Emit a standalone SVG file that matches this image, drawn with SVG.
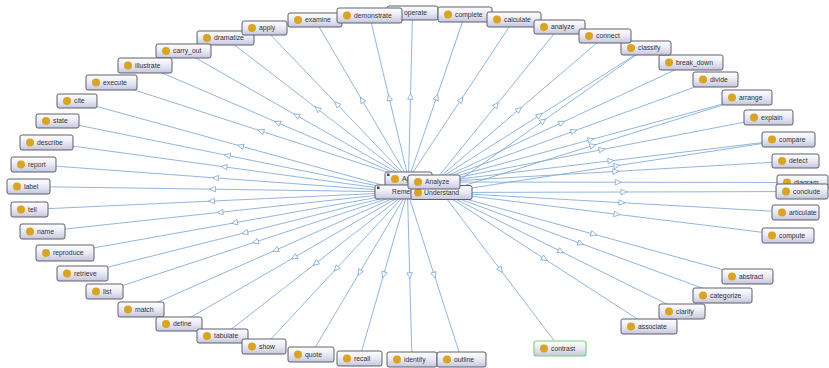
<svg xmlns="http://www.w3.org/2000/svg" width="829" height="368" viewBox="0 0 829 368">
<defs>
<linearGradient id="g" x1="0" y1="0" x2="0" y2="1">
<stop offset="0" stop-color="#ffffff"/>
<stop offset="0.5" stop-color="#e9e9f4"/>
<stop offset="1" stop-color="#c6c6df"/>
</linearGradient>
<marker id="arr" viewBox="0 0 8 8" refX="4" refY="4" markerWidth="8" markerHeight="7" markerUnits="userSpaceOnUse" orient="auto">
<path d="M0.6,0.9 L7.4,4 L0.6,7.1 Z" fill="#ffffff" stroke="#6f9fd0" stroke-width="0.8"/>
</marker>
</defs>
<style>
.edge{fill:none;stroke:#86aed8;stroke-width:0.9;marker-mid:url(#arr)}
.box{fill:url(#g);stroke:#5e5e6c;stroke-width:1}
.green{stroke:#7fd07f;stroke-width:1.2}
.dot{fill:#d8a424}
.icon{fill:#444}
.lbl{font-family:"Liberation Sans",Arial,sans-serif;font-size:6.8px;fill:#333}
</style>
<rect width="829" height="368" fill="#ffffff"/>
<g id="connectors">
<path class="edge" d="M407.5,192 L240.4,146 L77,101"/>
<path class="edge" d="M407.5,192 L227.2,155.4 L57.5,121"/>
<path class="edge" d="M407.5,192 L224,166.8 L46.5,142.5"/>
<path class="edge" d="M407.5,192 L215.5,177.9 L33.5,164.5"/>
<path class="edge" d="M407.5,192 L212.5,189.2 L28.5,186.5"/>
<path class="edge" d="M407.5,192 L211.5,201.1 L29.5,209.5"/>
<path class="edge" d="M407.5,192 L220,212.3 L42.5,231.5"/>
<path class="edge" d="M407.5,192 L234.5,222.8 L65,253"/>
<path class="edge" d="M407.5,192 L244.8,232.8 L82.5,273.5"/>
<path class="edge" d="M407.5,192 L255.4,242 L104.5,291.5"/>
<path class="edge" d="M407.5,192 L275.4,250.2 L141,309.5"/>
<path class="edge" d="M407.5,192 L294.1,257.5 L179,324"/>
<path class="edge" d="M407.5,192 L315.6,263.5 L222.5,336"/>
<path class="edge" d="M407.5,192 L336.2,268.8 L264,346.5"/>
<path class="edge" d="M407.5,192 L359.5,272.7 L311,354.5"/>
<path class="edge" d="M407.5,192 L383.6,274.8 L359.5,358.5"/>
<path class="edge" d="M407.5,192 L409.7,275.7 L412,360.5"/>
<path class="edge" d="M407.5,192 L434.3,275.2 L461.5,359.5"/>
<path class="edge" d="M408.5,179 L336.8,104 L264.5,28.5"/>
<path class="edge" d="M408.5,179 L317.3,108.7 L225.5,38"/>
<path class="edge" d="M408.5,179 L296.4,115.3 L183.5,51"/>
<path class="edge" d="M408.5,179 L277.3,122.5 L145,65.5"/>
<path class="edge" d="M408.5,179 L260.8,131 L111.5,82.5"/>
<path class="edge" d="M408.5,179 L361.9,99.8 L315,20"/>
<path class="edge" d="M408.5,179 L389.1,97.6 L369.5,15.5"/>
<path class="edge" d="M408.5,179 L410.5,96.3 L412.5,13"/>
<path class="edge" d="M408.5,179 L436.7,97 L465,14.5"/>
<path class="edge" d="M408.5,179 L461.1,99.5 L514,19.5"/>
<path class="edge" d="M434,182 L496.5,104.8 L559.5,27"/>
<path class="edge" d="M434,182 L519.2,109.3 L605,36"/>
<path class="edge" d="M434,182 L539.6,115.3 L646,48"/>
<path class="edge" d="M434,182 L562,122.5 L691,62.5"/>
<path class="edge" d="M434,182 L574,131 L715.5,79.5"/>
<path class="edge" d="M434,182 L591,139.6 L747,97.5"/>
<path class="edge" d="M434,182 L602,149.6 L768.5,117.5"/>
<path class="edge" d="M434,182 L611,160.8 L788.5,139.5"/>
<path class="edge" d="M434,182 L615.9,171.4 L795.5,161"/>
<path class="edge" d="M434,182 L618.3,182.25 L802.5,182.5"/>
<path class="edge" d="M442,192.5 L543.3,120.8 L646,48"/>
<path class="edge" d="M442,192.5 L592.9,145.5 L747,97.5"/>
<path class="edge" d="M442,192.5 L617,165.7 L788.5,139.5"/>
<path class="edge" d="M442,192.5 L624,192 L802,191.5"/>
<path class="edge" d="M442,192.5 L622,202.7 L795.5,212.5"/>
<path class="edge" d="M442,192.5 L617,214.3 L788,235.5"/>
<path class="edge" d="M442,192.5 L593.8,234.2 L747.5,276.5"/>
<path class="edge" d="M442,192.5 L580.9,243.5 L722.5,295.5"/>
<path class="edge" d="M442,192.5 L561,251.5 L682,311.5"/>
<path class="edge" d="M442,192.5 L544.7,259 L649,326.5"/>
<path class="edge" d="M442,192.5 L500.6,270 L560,348.5"/>
</g>
<g id="node-dramatize"><rect class="box" x="197" y="31" width="57" height="14" rx="2"/><circle class="dot" cx="207" cy="38" r="4"/><text class="lbl" x="214" y="40.4">dramatize</text></g>
<g id="node-apply"><rect class="box" x="242" y="21" width="45" height="14" rx="2"/><circle class="dot" cx="252" cy="28" r="4"/><text class="lbl" x="259" y="30.4">apply</text></g>
<g id="node-carry_out"><rect class="box" x="156" y="44" width="55" height="14" rx="2"/><circle class="dot" cx="166" cy="51" r="4"/><text class="lbl" x="173" y="53.4">carry_out</text></g>
<g id="node-illustrate"><rect class="box" x="118" y="58" width="54" height="15" rx="2"/><circle class="dot" cx="128" cy="65.5" r="4"/><text class="lbl" x="135" y="67.9">illustrate</text></g>
<g id="node-execute"><rect class="box" x="86" y="75" width="51" height="15" rx="2"/><circle class="dot" cx="96" cy="82.5" r="4"/><text class="lbl" x="103" y="84.9">execute</text></g>
<g id="node-cite"><rect class="box" x="57" y="94" width="40" height="14" rx="2"/><circle class="dot" cx="67" cy="101" r="4"/><text class="lbl" x="74" y="103.4">cite</text></g>
<g id="node-state"><rect class="box" x="36" y="114" width="43" height="14" rx="2"/><circle class="dot" cx="46" cy="121" r="4"/><text class="lbl" x="53" y="123.4">state</text></g>
<g id="node-describe"><rect class="box" x="20" y="135" width="53" height="15" rx="2"/><circle class="dot" cx="30" cy="142.5" r="4"/><text class="lbl" x="37" y="144.9">describe</text></g>
<g id="node-report"><rect class="box" x="11" y="157" width="45" height="15" rx="2"/><circle class="dot" cx="21" cy="164.5" r="4"/><text class="lbl" x="28" y="166.9">report</text></g>
<g id="node-label"><rect class="box" x="7" y="179" width="43" height="15" rx="2"/><circle class="dot" cx="17" cy="186.5" r="4"/><text class="lbl" x="24" y="188.9">label</text></g>
<g id="node-tell"><rect class="box" x="11" y="202" width="37" height="15" rx="2"/><circle class="dot" cx="21" cy="209.5" r="4"/><text class="lbl" x="28" y="211.9">tell</text></g>
<g id="node-name"><rect class="box" x="20" y="224" width="45" height="15" rx="2"/><circle class="dot" cx="30" cy="231.5" r="4"/><text class="lbl" x="37" y="233.9">name</text></g>
<g id="node-reproduce"><rect class="box" x="36" y="245" width="58" height="16" rx="2"/><circle class="dot" cx="46" cy="253" r="4"/><text class="lbl" x="53" y="255.4">reproduce</text></g>
<g id="node-retrieve"><rect class="box" x="57" y="266" width="51" height="15" rx="2"/><circle class="dot" cx="67" cy="273.5" r="4"/><text class="lbl" x="74" y="275.9">retrieve</text></g>
<g id="node-list"><rect class="box" x="86" y="284" width="37" height="15" rx="2"/><circle class="dot" cx="96" cy="291.5" r="4"/><text class="lbl" x="103" y="293.9">list</text></g>
<g id="node-match"><rect class="box" x="118" y="302" width="46" height="15" rx="2"/><circle class="dot" cx="128" cy="309.5" r="4"/><text class="lbl" x="135" y="311.9">match</text></g>
<g id="node-define"><rect class="box" x="156" y="317" width="46" height="14" rx="2"/><circle class="dot" cx="166" cy="324" r="4"/><text class="lbl" x="173" y="326.4">define</text></g>
<g id="node-tabulate"><rect class="box" x="197" y="329" width="51" height="14" rx="2"/><circle class="dot" cx="207" cy="336" r="4"/><text class="lbl" x="214" y="338.4">tabulate</text></g>
<g id="node-show"><rect class="box" x="242" y="339" width="44" height="15" rx="2"/><circle class="dot" cx="252" cy="346.5" r="4"/><text class="lbl" x="259" y="348.9">show</text></g>
<g id="node-quote"><rect class="box" x="288" y="347" width="46" height="15" rx="2"/><circle class="dot" cx="298" cy="354.5" r="4"/><text class="lbl" x="305" y="356.9">quote</text></g>
<g id="node-recall"><rect class="box" x="337" y="351" width="45" height="15" rx="2"/><circle class="dot" cx="347" cy="358.5" r="4"/><text class="lbl" x="354" y="360.9">recall</text></g>
<g id="node-identify"><rect class="box" x="387" y="352" width="50" height="15" rx="2"/><circle class="dot" cx="397" cy="359.5" r="4"/><text class="lbl" x="404" y="361.9">identify</text></g>
<g id="node-outline"><rect class="box" x="437" y="352" width="49" height="15" rx="2"/><circle class="dot" cx="447" cy="359.5" r="4"/><text class="lbl" x="454" y="361.9">outline</text></g>
<g id="node-contrast"><rect class="box green" x="534" y="341" width="52" height="15" rx="2"/><circle class="dot" cx="544" cy="348.5" r="4"/><text class="lbl" x="551" y="350.9">contrast</text></g>
<g id="node-associate"><rect class="box" x="621" y="319" width="56" height="15" rx="2"/><circle class="dot" cx="631" cy="326.5" r="4"/><text class="lbl" x="638" y="328.9">associate</text></g>
<g id="node-clarify"><rect class="box" x="659" y="304" width="46" height="15" rx="2"/><circle class="dot" cx="669" cy="311.5" r="4"/><text class="lbl" x="676" y="313.9">clarify</text></g>
<g id="node-categorize"><rect class="box" x="693" y="288" width="59" height="15" rx="2"/><circle class="dot" cx="703" cy="295.5" r="4"/><text class="lbl" x="710" y="297.9">categorize</text></g>
<g id="node-abstract"><rect class="box" x="722" y="269" width="51" height="15" rx="2"/><circle class="dot" cx="732" cy="276.5" r="4"/><text class="lbl" x="739" y="278.9">abstract</text></g>
<g id="node-compute"><rect class="box" x="762" y="228" width="52" height="15" rx="2"/><circle class="dot" cx="772" cy="235.5" r="4"/><text class="lbl" x="779" y="237.9">compute</text></g>
<g id="node-articulate"><rect class="box" x="772" y="205" width="47" height="15" rx="2"/><circle class="dot" cx="782" cy="212.5" r="4"/><text class="lbl" x="789" y="214.9">articulate</text></g>
<g id="node-diagram"><rect class="box" x="777" y="175" width="51" height="15" rx="2"/><circle class="dot" cx="787" cy="182.5" r="4"/><text class="lbl" x="794" y="184.9">diagram</text></g>
<g id="node-conclude"><rect class="box" x="776" y="184" width="52" height="15" rx="2"/><circle class="dot" cx="786" cy="191.5" r="4"/><text class="lbl" x="793" y="193.9">conclude</text></g>
<g id="node-detect"><rect class="box" x="772" y="154" width="47" height="14" rx="2"/><circle class="dot" cx="782" cy="161" r="4"/><text class="lbl" x="789" y="163.4">detect</text></g>
<g id="node-compare"><rect class="box" x="762" y="132" width="53" height="15" rx="2"/><circle class="dot" cx="772" cy="139.5" r="4"/><text class="lbl" x="779" y="141.9">compare</text></g>
<g id="node-explain"><rect class="box" x="744" y="110" width="49" height="15" rx="2"/><circle class="dot" cx="754" cy="117.5" r="4"/><text class="lbl" x="761" y="119.9">explain</text></g>
<g id="node-arrange"><rect class="box" x="722" y="90" width="50" height="15" rx="2"/><circle class="dot" cx="732" cy="97.5" r="4"/><text class="lbl" x="739" y="99.9">arrange</text></g>
<g id="node-divide"><rect class="box" x="693" y="72" width="45" height="15" rx="2"/><circle class="dot" cx="703" cy="79.5" r="4"/><text class="lbl" x="710" y="81.9">divide</text></g>
<g id="node-break_down"><rect class="box" x="659" y="55" width="64" height="15" rx="2"/><circle class="dot" cx="669" cy="62.5" r="4"/><text class="lbl" x="676" y="64.9">break_down</text></g>
<g id="node-classify"><rect class="box" x="621" y="41" width="50" height="14" rx="2"/><circle class="dot" cx="631" cy="48" r="4"/><text class="lbl" x="638" y="50.4">classify</text></g>
<g id="node-examine"><rect class="box" x="288" y="13" width="54" height="14" rx="2"/><circle class="dot" cx="298" cy="20" r="4"/><text class="lbl" x="305" y="22.4">examine</text></g>
<g id="node-operate"><rect class="box" x="387" y="6" width="51" height="14" rx="2"/><circle class="dot" cx="397" cy="13" r="4"/><text class="lbl" x="404" y="15.4">operate</text></g>
<g id="node-demonstrate"><rect class="box" x="337" y="8" width="65" height="15" rx="2"/><circle class="dot" cx="347" cy="15.5" r="4"/><text class="lbl" x="354" y="17.9">demonstrate</text></g>
<g id="node-complete"><rect class="box" x="438" y="7" width="54" height="15" rx="2"/><circle class="dot" cx="448" cy="14.5" r="4"/><text class="lbl" x="455" y="16.9">complete</text></g>
<g id="node-calculate"><rect class="box" x="487" y="12" width="54" height="15" rx="2"/><circle class="dot" cx="497" cy="19.5" r="4"/><text class="lbl" x="504" y="21.9">calculate</text></g>
<g id="node-analyze"><rect class="box" x="534" y="20" width="51" height="14" rx="2"/><circle class="dot" cx="544" cy="27" r="4"/><text class="lbl" x="551" y="29.4">analyze</text></g>
<g id="node-connect"><rect class="box" x="579" y="29" width="52" height="14" rx="2"/><circle class="dot" cx="589" cy="36" r="4"/><text class="lbl" x="596" y="38.4">connect</text></g>
<g id="node-Apply"><rect class="box" x="385" y="172" width="47" height="14" rx="2"/><rect class="icon" x="387" y="173.5" width="2.5" height="2.5"/><circle class="dot" cx="395" cy="179" r="4"/><text class="lbl" x="402" y="181.4">Apply</text></g>
<g id="node-Remember"><rect class="box" x="375" y="185" width="65" height="14" rx="2"/><rect class="icon" x="377" y="186.5" width="2.5" height="2.5"/><text class="lbl" x="392" y="194.4">Remember</text></g>
<g id="node-Understand"><rect class="box" x="411" y="185.5" width="61" height="14" rx="2"/><circle class="dot" cx="418" cy="192.5" r="4"/><text class="lbl" x="424" y="194.9">Understand</text></g>
<g id="node-Analyze"><rect class="box" x="408" y="175" width="52" height="14" rx="2"/><circle class="dot" cx="418" cy="182" r="4"/><text class="lbl" x="425" y="184.4">Analyze</text></g>
</svg>
